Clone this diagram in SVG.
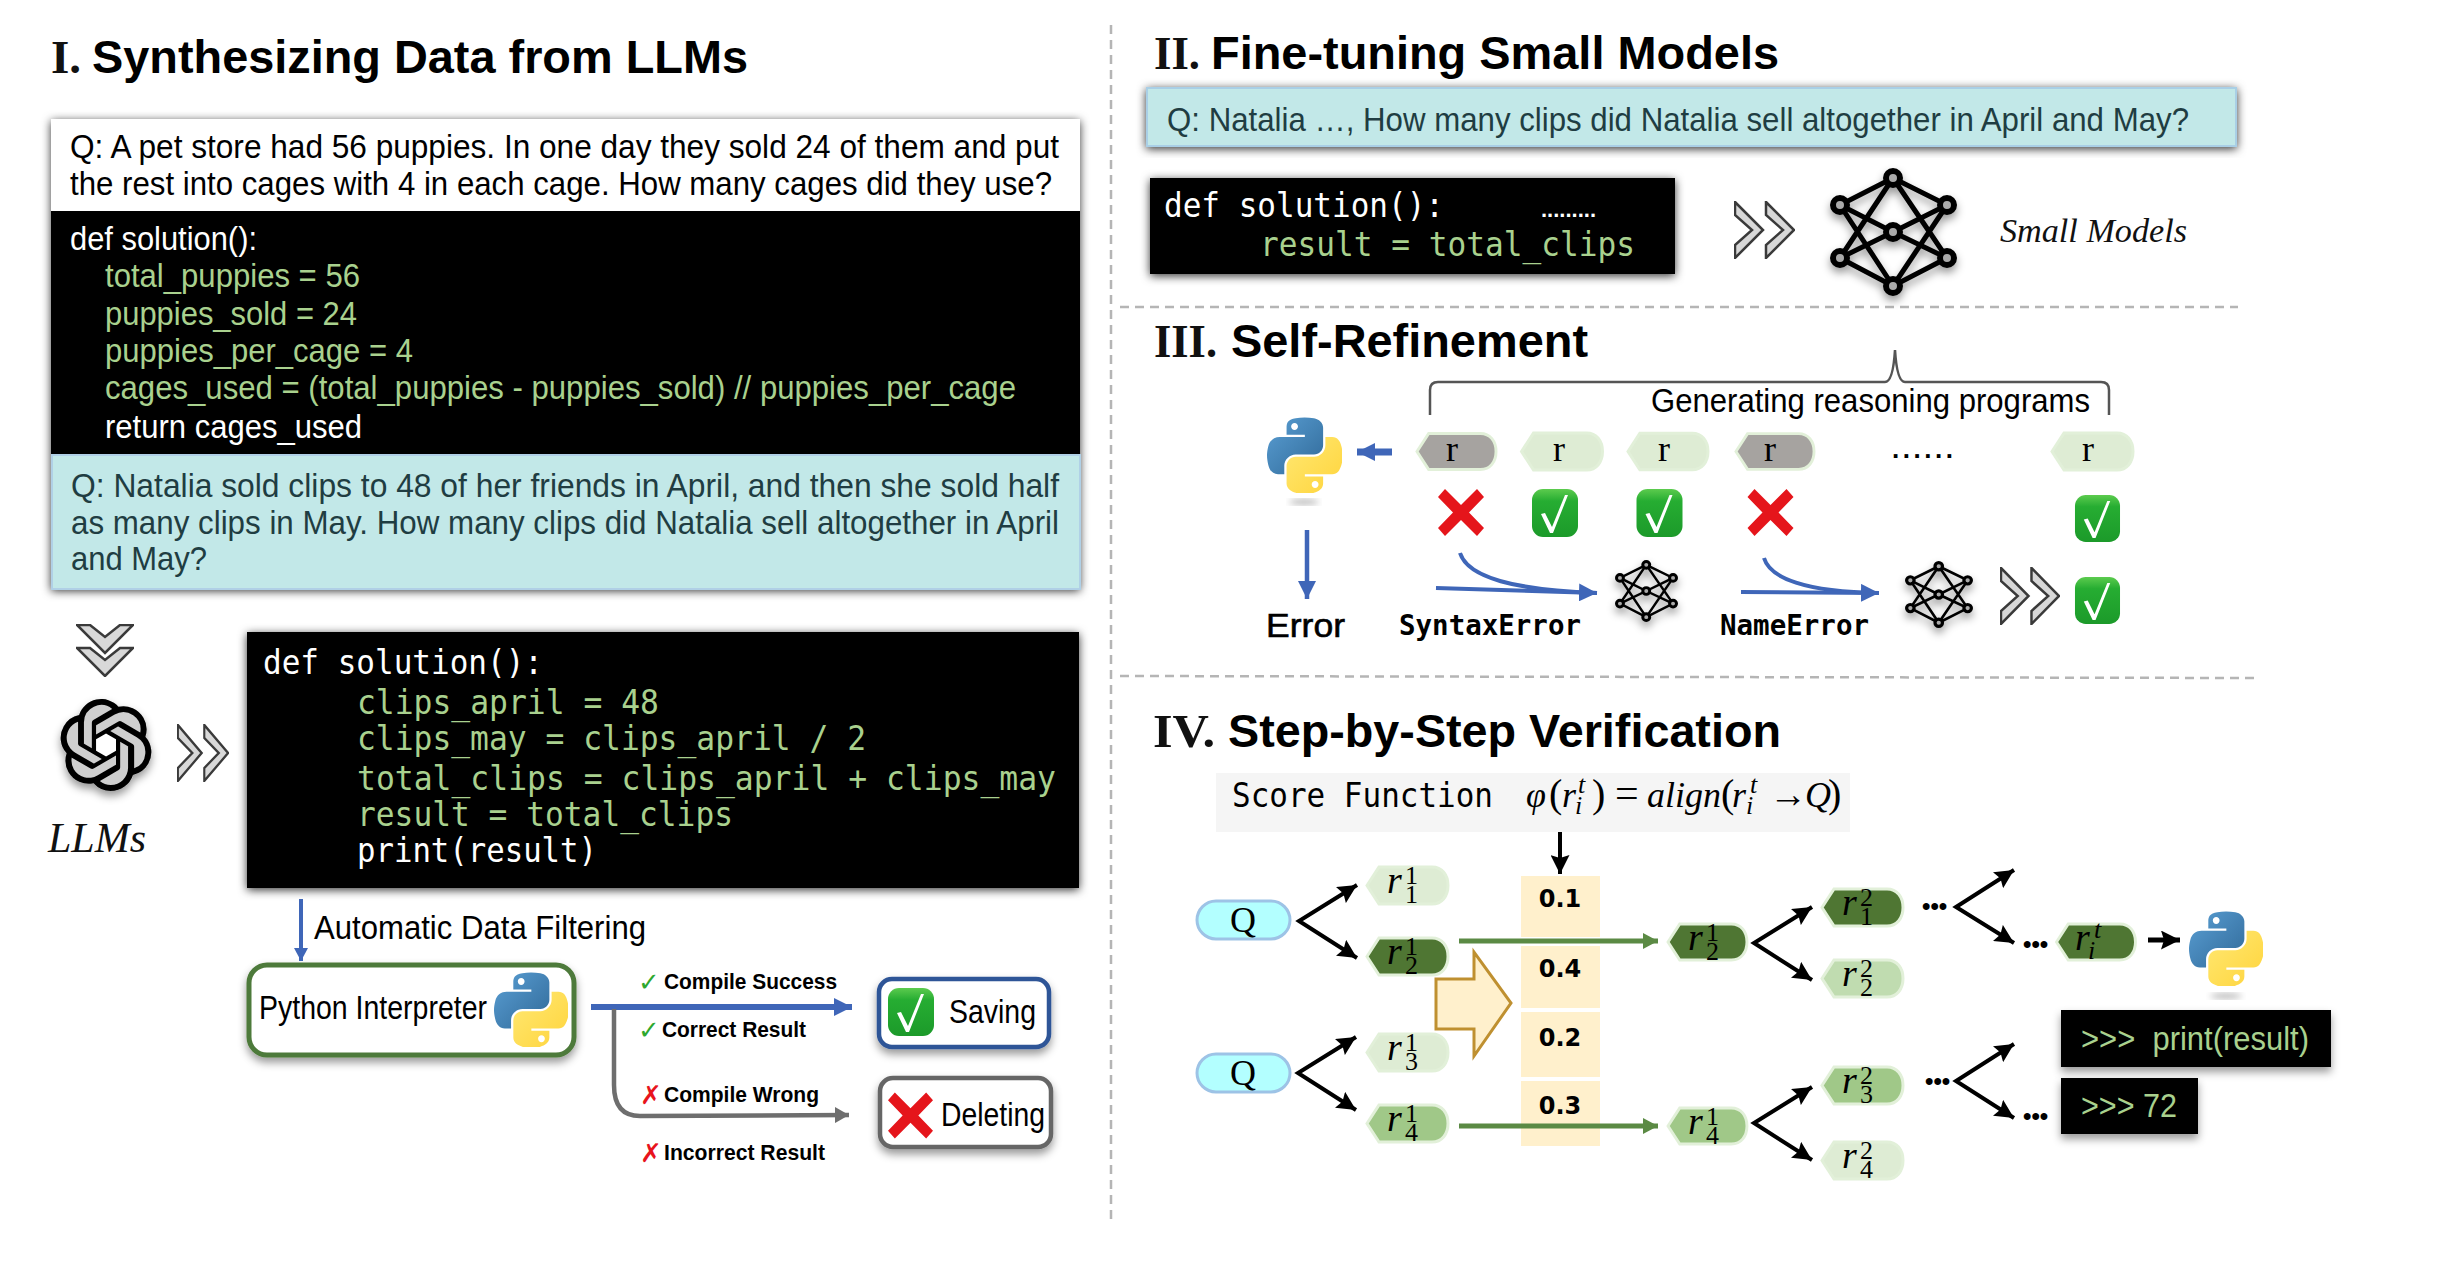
<svg xmlns="http://www.w3.org/2000/svg" width="2448" height="1262" viewBox="0 0 2448 1262">
<style>
text{font-family:"Liberation Sans",Arial,sans-serif;fill:#000}
.h{font-size:47px;font-weight:bold}
.ser{font-family:"Liberation Serif","Times New Roman",serif;fill:#111}
.b{font-size:34px}
.c{font-size:33px;fill:#fff}
.g{fill:#a9d18e}
.t{fill:#1f3d42}
.m{font-family:"DejaVu Sans Mono",monospace;font-size:33px}
.mw{fill:#fff}
.mb{font-family:"DejaVu Sans Mono",monospace;font-size:29px;font-weight:bold}
.lab{font-size:22px;font-weight:bold}
.ok{font-family:"DejaVu Sans",sans-serif;font-size:26px;fill:#2ea82e}
.no{font-family:"DejaVu Sans",sans-serif;font-size:26px;fill:#e8141c}
.rr{font-family:"Liberation Serif",serif;font-size:38px;font-style:italic}
.rs{font-size:26px;font-style:normal}
.ri{font-size:26px}
.r0{font-family:"Liberation Serif",serif;font-size:36px;text-anchor:middle}
.v{font-family:"DejaVu Sans",sans-serif;font-size:24px;font-weight:bold;text-anchor:middle}
.d{font-size:24px;font-weight:bold}
.dash{stroke:#b5b5b5;stroke-width:2.5;stroke-dasharray:9 6;fill:none}
.bl{stroke:#3f66b8;fill:none}
.gy{stroke:#6e6e6e;fill:none}
.gn{stroke:#5b8a44;stroke-width:5;fill:none}
.bk{stroke:#000;fill:none}
.l1{fill:#deecd4}.l2{fill:#c0dcb0}.mid{fill:#a0c888}.dk{fill:#4f7633}.gr{fill:#a6a3a0}
.cell{fill:#fff0cc}
</style>
<defs>
<filter id="sh" x="-10%" y="-20%" width="120%" height="140%"><feDropShadow dx="0" dy="2" stdDeviation="5" flood-color="#000" flood-opacity=".8"/></filter>
<filter id="sh2" x="-30%" y="-30%" width="160%" height="160%"><feDropShadow dx="0" dy="5" stdDeviation="4" flood-color="#000" flood-opacity=".4"/></filter>
<filter id="soft"><feGaussianBlur stdDeviation="3"/></filter>
<linearGradient id="pb" x1="0" y1="0" x2="1" y2="1"><stop offset="0" stop-color="#5a9fd4"/><stop offset="1" stop-color="#306998"/></linearGradient>
<linearGradient id="py" x1="0" y1="0" x2="1" y2="1"><stop offset="0" stop-color="#ffe873"/><stop offset="1" stop-color="#ffd43b"/></linearGradient>
<linearGradient id="ck" x1="0" y1="0" x2="0" y2="1"><stop offset="0" stop-color="#5ccb4e"/><stop offset=".25" stop-color="#26ad32"/><stop offset="1" stop-color="#1c9a2a"/></linearGradient>
<symbol id="python" viewBox="0 0 110 110"><path fill="url(#pb)" d="M54.919 0c-4.584.022-8.961.413-12.813 1.095C30.76 3.099 28.7 7.295 28.7 15.032v10.219h26.813v3.406H28.7H18.638c-7.793 0-14.616 4.684-16.75 13.594-2.462 10.213-2.571 16.586 0 27.25 1.906 7.938 6.457 13.594 14.25 13.594h9.218v-12.25c0-8.85 7.657-16.656 16.75-16.656h26.782c7.454 0 13.406-6.138 13.406-13.625V15.032c0-7.266-6.13-12.725-13.406-13.937C64.282.328 59.502-.02 54.919 0zM40.419 8.22c2.77 0 5.031 2.299 5.031 5.125 0 2.816-2.262 5.094-5.031 5.094-2.779 0-5.031-2.277-5.031-5.094 0-2.826 2.252-5.125 5.031-5.125z"/><path fill="url(#py)" d="M85.638 28.657v11.906c0 9.231-7.826 17-16.75 17H42.106c-7.336 0-13.406 6.279-13.406 13.625v25.531c0 7.266 6.319 11.54 13.406 13.625 8.487 2.496 16.626 2.947 26.782 0 6.75-1.954 13.406-5.888 13.406-13.625V86.5H55.513v-3.405h26.781 13.406c7.793 0 10.696-5.436 13.406-13.594 2.8-8.399 2.68-16.476 0-27.25-1.926-7.757-5.604-13.594-13.406-13.594H85.638zM70.575 93.313c2.779 0 5.031 2.277 5.031 5.094 0 2.826-2.252 5.125-5.031 5.125-2.77 0-5.031-2.299-5.031-5.125 0-2.816 2.262-5.094 5.031-5.094z"/></symbol>
<symbol id="check" viewBox="0 0 46 48"><rect width="46" height="48" rx="11" fill="url(#ck)"/><path fill="#fff" d="M9 25l4-1 7 14L33 6h3L21 44h-3z"/></symbol>
<symbol id="cross" viewBox="0 0 46 47"><path fill="#e5151b" d="M0 8 7 0 23 16 39 0 46 8 31 23.500 46 39 39 47 23 31 7 47 0 39 15 23.500z"/></symbol>
<symbol id="chevR" viewBox="0 0 61 58" preserveAspectRatio="none"><g fill="#d8d8d8" stroke="#3a3a3a" stroke-width="2.500"><path d="M1 1 29 29 1 57V44L18 29 1 14z"/><path d="M32 1 60 29 32 57V44L49 29 32 14z"/></g></symbol>
<symbol id="chevD" viewBox="0 0 58 53" preserveAspectRatio="none"><g fill="#d8d8d8" stroke="#3a3a3a" stroke-width="2.500"><path d="M1 1H14L29 13 44 1H57L29 29z"/><path d="M1 24H14L29 36 44 24H57L29 52z"/></g></symbol>
<symbol id="net" viewBox="0 0 127 128" preserveAspectRatio="none"><path stroke="#000" stroke-width="5" fill="none" d="M63 10 10 37 63 64 117 90 63 118 10 90 63 64 117 37ZM63 10 10 90M63 10 117 90M63 118 10 37M63 118 117 37"/><g fill="#aaa" stroke="#000" stroke-width="6"><circle cx="63" cy="10" r="7"/><circle cx="10" cy="37" r="7"/><circle cx="117" cy="37" r="7"/><circle cx="63" cy="64" r="7"/><circle cx="10" cy="90" r="7"/><circle cx="117" cy="90" r="7"/><circle cx="63" cy="118" r="7"/></g></symbol>
<symbol id="hex" viewBox="0 0 83 39" overflow="visible"><path stroke="#e2f0d9" stroke-width="3" d="M1 19.500 13 1H66C76 1 82 9 82 19.500S76 38 66 38H13z"/></symbol>
<symbol id="knot" viewBox="0 0 24 24"><path fill="#cfcfcf" d="M22.2819 9.8211a5.9847 5.9847 0 0 0-.5157-4.9108 6.0462 6.0462 0 0 0-6.5098-2.9A6.0651 6.0651 0 0 0 4.9807 4.1818a5.9847 5.9847 0 0 0-3.9977 2.9 6.0462 6.0462 0 0 0 .7427 7.0966 5.98 5.98 0 0 0 .511 4.9107 6.051 6.051 0 0 0 6.5146 2.9001A5.9847 5.9847 0 0 0 13.2599 24a6.0557 6.0557 0 0 0 5.7718-4.2058 5.9894 5.9894 0 0 0 3.9977-2.9001 6.0557 6.0557 0 0 0-.7475-7.0729z"/><circle cx="12" cy="12" r="3" fill="#fff"/><path d="M22.2819 9.8211a5.9847 5.9847 0 0 0-.5157-4.9108 6.0462 6.0462 0 0 0-6.5098-2.9A6.0651 6.0651 0 0 0 4.9807 4.1818a5.9847 5.9847 0 0 0-3.9977 2.9 6.0462 6.0462 0 0 0 .7427 7.0966 5.98 5.98 0 0 0 .511 4.9107 6.051 6.051 0 0 0 6.5146 2.9001A5.9847 5.9847 0 0 0 13.2599 24a6.0557 6.0557 0 0 0 5.7718-4.2058 5.9894 5.9894 0 0 0 3.9977-2.9001 6.0557 6.0557 0 0 0-.7475-7.0729zm-9.022 12.6081a4.4755 4.4755 0 0 1-2.8764-1.0408l.1419-.0804 4.7783-2.7582a.7948.7948 0 0 0 .3927-.6813v-6.7369l2.02 1.1686a.071.071 0 0 1 .038.052v5.5826a4.504 4.504 0 0 1-4.4945 4.4944zm-9.6607-4.1254a4.4708 4.4708 0 0 1-.5346-3.0137l.142.0852 4.783 2.7582a.7712.7712 0 0 0 .7806 0l5.8428-3.3685v2.3324a.0804.0804 0 0 1-.0332.0615L9.74 19.9502a4.4992 4.4992 0 0 1-6.1408-1.6464zM2.3408 7.8956a4.485 4.485 0 0 1 2.3655-1.9728V11.6a.7664.7664 0 0 0 .3879.6765l5.8144 3.3543-2.0201 1.1685a.0757.0757 0 0 1-.071 0l-4.8303-2.7865A4.504 4.504 0 0 1 2.3408 7.872zm16.5963 3.8558L13.1038 8.364 15.1192 7.2a.0757.0757 0 0 1 .071 0l4.8303 2.7913a4.4944 4.4944 0 0 1-.6765 8.1042v-5.6772a.79.79 0 0 0-.407-.667zm2.0107-3.0231l-.142-.0852-4.7735-2.7818a.7759.7759 0 0 0-.7854 0L9.409 9.2297V6.8974a.0662.0662 0 0 1 .0284-.0615l4.8303-2.7866a4.4992 4.4992 0 0 1 6.6802 4.66zM8.3065 12.863l-2.02-1.1638a.0804.0804 0 0 1-.038-.0567V6.0742a4.4992 4.4992 0 0 1 7.3757-3.4537l-.142.0805L8.704 5.459a.7948.7948 0 0 0-.3927.6813zm1.0976-2.3654l2.602-1.4998 2.6069 1.4998v2.9994l-2.5974 1.4997-2.6067-1.4997Z"/></symbol>
<marker id="ab" markerUnits="userSpaceOnUse" markerWidth="18" markerHeight="18" viewBox="0 0 18 18" refX="18" refY="9" orient="auto"><path d="M0 0 18 9 0 18z" fill="#3f66b8"/></marker>
<marker id="ab2" markerUnits="userSpaceOnUse" markerWidth="13" markerHeight="14" viewBox="0 0 13 14" refX="13" refY="7" orient="auto"><path d="M0 0 13 7 0 14z" fill="#3f66b8"/></marker>
<marker id="ag" markerUnits="userSpaceOnUse" markerWidth="14" markerHeight="16" viewBox="0 0 14 16" refX="14" refY="8" orient="auto"><path d="M0 0 14 8 0 16z" fill="#6e6e6e"/></marker>
<marker id="an" markerUnits="userSpaceOnUse" markerWidth="15" markerHeight="16" viewBox="0 0 15 16" refX="15" refY="8" orient="auto"><path d="M0 0 15 8 0 16z" fill="#5b8a44"/></marker>
<marker id="ak" markerUnits="userSpaceOnUse" markerWidth="19" markerHeight="19" viewBox="0 0 19 19" refX="19" refY="9.500" orient="auto-start-reverse"><path d="M0 0 19 9.500 0 19 3 9.500z" fill="#000"/></marker>
</defs>
<rect width="2448" height="1262" fill="#fff"/>

<g id="dividers">
<path class="dash" d="M1111 25V1225"/>
<path class="dash" d="M1120 307H2238"/>
<path class="dash" d="M1120 676 2256 678"/>
</g>

<g id="titles">
<text class="h ser" x="51" y="73">I.</text><text class="h" x="92" y="73" textLength="656" lengthAdjust="spacingAndGlyphs">Synthesizing Data from LLMs</text>
<text class="h ser" x="1154" y="69" textLength="46" lengthAdjust="spacingAndGlyphs">II.</text><text class="h" x="1211" y="69" textLength="568" lengthAdjust="spacingAndGlyphs">Fine-tuning Small Models</text>
<text class="h ser" x="1154" y="357" textLength="63" lengthAdjust="spacingAndGlyphs">III.</text><text class="h" x="1231" y="357" textLength="357" lengthAdjust="spacingAndGlyphs">Self-Refinement</text>
<text class="h ser" x="1153" y="747" textLength="62" lengthAdjust="spacingAndGlyphs">IV.</text><text class="h" x="1228" y="747" textLength="553" lengthAdjust="spacingAndGlyphs">Step-by-Step Verification</text>
</g>

<g id="example-panel">
<rect x="51" y="119" width="1029" height="470" fill="#000" filter="url(#sh)"/>
<rect x="51" y="119" width="1029" height="92" fill="#fff"/>
<rect x="52" y="455" width="1028" height="134" fill="#c2e8e8" stroke="#b0d0e6" stroke-width="2"/>
<text class="b" x="70" y="158" textLength="989" lengthAdjust="spacingAndGlyphs">Q: A pet store had 56 puppies. In one day they sold 24 of them and put</text>
<text class="b" x="70" y="195" textLength="982" lengthAdjust="spacingAndGlyphs">the rest into cages with 4 in each cage. How many cages did they use?</text>
<text class="c" x="70" y="250" textLength="187" lengthAdjust="spacingAndGlyphs">def solution():</text>
<text class="c g" x="105" y="287" textLength="255" lengthAdjust="spacingAndGlyphs">total_puppies = 56</text>
<text class="c g" x="105" y="325" textLength="252" lengthAdjust="spacingAndGlyphs">puppies_sold = 24</text>
<text class="c g" x="105" y="362" textLength="308" lengthAdjust="spacingAndGlyphs">puppies_per_cage = 4</text>
<text class="c g" x="105" y="399" textLength="911" lengthAdjust="spacingAndGlyphs">cages_used = (total_puppies - puppies_sold) // puppies_per_cage</text>
<text class="c" x="105" y="438" textLength="257" lengthAdjust="spacingAndGlyphs">return cages_used</text>
<text class="b t" x="71" y="497" textLength="988" lengthAdjust="spacingAndGlyphs">Q: Natalia sold clips to 48 of her friends in April, and then she sold half</text>
<text class="b t" x="71" y="534" textLength="988" lengthAdjust="spacingAndGlyphs">as many clips in May. How many clips did Natalia sell altogether in April</text>
<text class="b t" x="71" y="570" textLength="136" lengthAdjust="spacingAndGlyphs">and May?</text>
</g>

<g id="llm">
<use href="#chevD" x="76" y="624" width="58" height="53"/>
<g filter="url(#sh2)"><use href="#knot" x="60" y="698" width="92" height="94"/></g>
<use href="#chevR" x="177" y="724" width="52" height="58"/>
<text class="ser" x="48" y="852" font-size="42" font-style="italic" textLength="98" lengthAdjust="spacingAndGlyphs">LLMs</text>
</g>

<g id="generated-code">
<rect x="247" y="632" width="832" height="256" fill="#000" filter="url(#sh)"/>
<text class="m mw" x="263" y="674" textLength="280" lengthAdjust="spacingAndGlyphs">def solution():</text>
<text class="m g" x="357" y="714" textLength="302" lengthAdjust="spacingAndGlyphs">clips_april = 48</text>
<text class="m g" x="357" y="750" textLength="509" lengthAdjust="spacingAndGlyphs">clips_may = clips_april / 2</text>
<text class="m g" x="357" y="790" textLength="699" lengthAdjust="spacingAndGlyphs">total_clips = clips_april + clips_may</text>
<text class="m g" x="357" y="826" textLength="376" lengthAdjust="spacingAndGlyphs">result = total_clips</text>
<text class="m mw" x="357" y="862" textLength="240" lengthAdjust="spacingAndGlyphs">print(result)</text>
</g>

<text id="filter-label" class="b" x="314" y="939" textLength="332" lengthAdjust="spacingAndGlyphs">Automatic Data Filtering</text>

<g id="interpreter">
<rect x="249" y="965" width="325" height="90" rx="18" fill="#fff" stroke="#4e7a3a" stroke-width="5" filter="url(#sh2)"/>
<text class="b" x="259" y="1019" textLength="228" lengthAdjust="spacingAndGlyphs">Python Interpreter</text>
<use href="#python" x="494" y="972" width="74" height="75"/>
</g>

<g id="saving">
<rect x="879" y="979" width="170" height="68" rx="13" fill="#fff" stroke="#2f5597" stroke-width="4.500" filter="url(#sh2)"/>
<use href="#check" x="888" y="988" width="46" height="48"/>
<text class="b" x="949" y="1023" textLength="87" lengthAdjust="spacingAndGlyphs">Saving</text>
</g>
<g id="deleting">
<rect x="880" y="1078" width="171" height="69" rx="13" fill="#fff" stroke="#666" stroke-width="4.500" filter="url(#sh2)"/>
<use href="#cross" x="888" y="1092" width="45" height="47"/>
<text class="b" x="941" y="1126" textLength="104" lengthAdjust="spacingAndGlyphs">Deleting</text>
</g>
<g id="filter-labels">
<text class="ok" x="638" y="991">✓</text><text class="lab" x="664" y="989" textLength="173" lengthAdjust="spacingAndGlyphs">Compile Success</text>
<text class="ok" x="638" y="1039">✓</text><text class="lab" x="662" y="1037" textLength="144" lengthAdjust="spacingAndGlyphs">Correct Result</text>
<text class="no" x="640" y="1104">✗</text><text class="lab" x="664" y="1102" textLength="155" lengthAdjust="spacingAndGlyphs">Compile Wrong</text>
<text class="no" x="640" y="1162">✗</text><text class="lab" x="664" y="1160" textLength="161" lengthAdjust="spacingAndGlyphs">Incorrect Result</text>
</g>

<g id="finetune">
<rect x="1147" y="88" width="1089" height="58" fill="#c2e8e8" stroke="#a9cfe6" stroke-width="2" filter="url(#sh)"/>
<text class="b t" x="1167" y="131" textLength="1022" lengthAdjust="spacingAndGlyphs">Q: Natalia …, How many clips did Natalia sell altogether in April and May?</text>
<rect x="1150" y="178" width="525" height="96" fill="#000" filter="url(#sh)"/>
<text class="m mw" x="1164" y="217" textLength="280" lengthAdjust="spacingAndGlyphs">def solution():</text>
<text x="1541" y="217" font-size="22" font-weight="bold" style="fill:#fff" textLength="55" lengthAdjust="spacingAndGlyphs">.........</text>
<text class="m g" x="1260" y="256" textLength="375" lengthAdjust="spacingAndGlyphs">result = total_clips</text>
<use href="#chevR" x="1734" y="201" width="61" height="58"/>
<g filter="url(#sh2)"><use href="#net" x="1830" y="168" width="127" height="128"/></g>
<text class="ser" x="2000" y="242" font-size="34" font-style="italic" textLength="187" lengthAdjust="spacingAndGlyphs">Small Models</text>
</g>

<g id="refine">
<path d="M1430 415V390Q1430 382 1438 382H1885Q1893 382 1895 350 1897 382 1905 382H2101Q2109 382 2109 390V415" fill="none" stroke="#555" stroke-width="2.500"/>
<text class="b" x="1651" y="412" textLength="439" lengthAdjust="spacingAndGlyphs">Generating reasoning programs</text>
<use href="#python" x="1267" y="417" width="75" height="76"/>
<ellipse cx="1304" cy="502" rx="15" ry="3" fill="#bbb" filter="url(#soft)"/>
<use href="#hex" class="gr" x="1416" y="432" width="81" height="39"/><text class="r0" x="1452" y="461">r</text>
<use href="#hex" class="l1" x="1520" y="432" width="84" height="39"/><text class="r0" x="1559" y="461">r</text>
<use href="#hex" class="l1" x="1627" y="432" width="82" height="39"/><text class="r0" x="1664" y="461">r</text>
<use href="#hex" class="gr" x="1735" y="432" width="80" height="39"/><text class="r0" x="1770" y="461">r</text>
<use href="#hex" class="l1" x="2051" y="432" width="83" height="39"/><text class="r0" x="2088" y="461">r</text>
<text x="1892" y="458" font-size="26" font-weight="bold" textLength="61" lengthAdjust="spacing">......</text>
<use href="#cross" x="1438" y="489" width="46" height="47"/>
<use href="#check" x="1532" y="489" width="46" height="48"/>
<use href="#check" x="1636" y="489" width="47" height="48"/>
<use href="#cross" x="1747" y="489" width="47" height="47"/>
<use href="#check" x="2074" y="495" width="47" height="47"/>
<use href="#check" x="2074" y="577" width="47" height="47"/>
<text x="1266" y="637" font-size="33" stroke="#000" stroke-width=".6" textLength="79" lengthAdjust="spacingAndGlyphs">Error</text>
<text class="mb" x="1399" y="635" textLength="182" lengthAdjust="spacingAndGlyphs">SyntaxError</text>
<text class="mb" x="1720" y="635" textLength="149" lengthAdjust="spacingAndGlyphs">NameError</text>
<g filter="url(#sh2)"><use href="#net" x="1615" y="560" width="63" height="62"/></g>
<g filter="url(#sh2)"><use href="#net" x="1905" y="561" width="68" height="67"/></g>
<use href="#chevR" x="2000" y="567" width="60" height="58"/>
</g>

<g id="verify">
<rect x="1216" y="773" width="634" height="59" fill="#f5f5f5"/>
<text class="m" x="1232" y="807" textLength="261" lengthAdjust="spacingAndGlyphs">Score Function</text>
<text id="formula" class="rr" x="1526" y="807" style="font-size:36px">φ<tspan class="rs" x="1549" style="font-size:40px">(</tspan><tspan x="1562">r</tspan><tspan class="ri" x="1578" y="793">t</tspan><tspan class="ri" x="1575" y="814">i</tspan><tspan class="rs" x="1592" y="807" style="font-size:40px">)</tspan><tspan class="rs" x="1615" style="font-size:42px">=</tspan><tspan x="1647">align</tspan><tspan class="rs" x="1721" style="font-size:40px">(</tspan><tspan x="1732">r</tspan><tspan class="ri" x="1750" y="793">t</tspan><tspan class="ri" x="1746" y="814">i</tspan><tspan class="rs" x="1769" y="807" style="font-size:38px">→</tspan><tspan x="1805">Q</tspan><tspan class="rs" x="1828" style="font-size:40px">)</tspan></text>
<g id="scores">
<rect class="cell" x="1521" y="876" width="79" height="61"/><rect class="cell" x="1521" y="946" width="79" height="62"/><rect class="cell" x="1521" y="1012" width="79" height="65"/><rect class="cell" x="1521" y="1081" width="79" height="65"/>
<text class="v" x="1560" y="907">0.1</text><text class="v" x="1560" y="977">0.4</text><text class="v" x="1560" y="1046">0.2</text><text class="v" x="1560" y="1114">0.3</text>
</g>
<path id="score-arrow" d="M1436 979H1474V952L1511 1003 1474 1056V1029H1436Z" fill="#fff0cc" stroke="#bf9030" stroke-width="3"/>
<g id="q1"><rect x="1197" y="901" width="93" height="38" rx="19" fill="#b3ffff" stroke="#9dc3e6" stroke-width="3"/><text class="r0" x="1243" y="932">Q</text></g>
<g id="q2"><rect x="1197" y="1054" width="93" height="38" rx="19" fill="#b3ffff" stroke="#9dc3e6" stroke-width="3"/><text class="r0" x="1243" y="1085">Q</text></g>

<g id="r11" transform="translate(1366 866)"><use href="#hex" class="l1" width="83" height="39"/><text class="rr" x="21" y="27">r<tspan class="rs" x="39" y="18">1</tspan><tspan class="rs" x="39" y="37">1</tspan></text></g>
<g id="r21" transform="translate(1366 937)"><use href="#hex" class="dk" width="83" height="39"/><text class="rr" x="21" y="27">r<tspan class="rs" x="39" y="18">1</tspan><tspan class="rs" x="39" y="37">2</tspan></text></g>
<g id="r31" transform="translate(1366 1033)"><use href="#hex" class="l1" width="83" height="39"/><text class="rr" x="21" y="27">r<tspan class="rs" x="39" y="18">1</tspan><tspan class="rs" x="39" y="37">3</tspan></text></g>
<g id="r41" transform="translate(1366 1104)"><use href="#hex" class="mid" width="83" height="39"/><text class="rr" x="21" y="27">r<tspan class="rs" x="39" y="18">1</tspan><tspan class="rs" x="39" y="37">4</tspan></text></g>
<g id="r21b" transform="translate(1667 923)"><use href="#hex" class="dk" width="81" height="38"/><text class="rr" x="21" y="27">r<tspan class="rs" x="39" y="18">1</tspan><tspan class="rs" x="39" y="37">2</tspan></text></g>
<g id="r41b" transform="translate(1667 1107)"><use href="#hex" class="mid" width="81" height="38"/><text class="rr" x="21" y="27">r<tspan class="rs" x="39" y="18">1</tspan><tspan class="rs" x="39" y="37">4</tspan></text></g>
<g id="r12" transform="translate(1821 888)"><use href="#hex" class="dk" width="83" height="39"/><text class="rr" x="21" y="27">r<tspan class="rs" x="39" y="18">2</tspan><tspan class="rs" x="39" y="37">1</tspan></text></g>
<g id="r22" transform="translate(1821 959)"><use href="#hex" class="l2" width="83" height="39"/><text class="rr" x="21" y="27">r<tspan class="rs" x="39" y="18">2</tspan><tspan class="rs" x="39" y="37">2</tspan></text></g>
<g id="r32" transform="translate(1821 1066)"><use href="#hex" class="mid" width="83" height="39"/><text class="rr" x="21" y="27">r<tspan class="rs" x="39" y="18">2</tspan><tspan class="rs" x="39" y="37">3</tspan></text></g>
<g id="r42" transform="translate(1821 1141)"><use href="#hex" class="l1" width="83" height="39"/><text class="rr" x="21" y="27">r<tspan class="rs" x="39" y="18">2</tspan><tspan class="rs" x="39" y="37">4</tspan></text></g>
<g id="rit" transform="translate(2055 923)"><use href="#hex" class="dk" width="82" height="38"/><text class="rr" x="20" y="27">r<tspan class="ri" x="39" y="15">t</tspan><tspan class="ri" x="33" y="36">i</tspan></text></g>

<g id="ellipses">
<text class="d" x="1922" y="914">•••</text><text class="d" x="2023" y="952">•••</text><text class="d" x="1925" y="1089">•••</text><text class="d" x="2023" y="1124">•••</text>
</g>
<use href="#python" x="2189" y="911" width="74" height="75"/>
<ellipse cx="2226" cy="996" rx="16" ry="3" fill="#bbb" filter="url(#soft)"/>
<g id="out1"><rect x="2061" y="1010" width="270" height="57" fill="#000" filter="url(#sh2)"/><text class="b g" x="2081" y="1050" textLength="228" lengthAdjust="spacingAndGlyphs" xml:space="preserve">&gt;&gt;&gt;  print(result)</text></g>
<g id="out2"><rect x="2061" y="1078" width="137" height="56" fill="#000" filter="url(#sh2)"/><text class="b g" x="2081" y="1117" textLength="96" lengthAdjust="spacingAndGlyphs">&gt;&gt;&gt; 72</text></g>
</g>

<g id="connectors">
<path class="bl" stroke-width="4" d="M301 899V961" marker-end="url(#ab2)"/>
<path class="bl" stroke-width="6" d="M591 1007H852" marker-end="url(#ab)"/>
<path class="gy" stroke-width="4.500" d="M614 1009V1085Q614 1116 640 1116L849 1115" marker-end="url(#ag)"/>
<path class="bl" stroke-width="7" d="M1392 452H1357" marker-end="url(#ab)"/>
<path class="bl" stroke-width="4.500" d="M1307 530V599" marker-end="url(#ab)"/>
<path class="bl" stroke-width="4" d="M1460 553C1468 578 1515 590 1597 593"/>
<path class="bl" stroke-width="4" d="M1436 588 1597 593" marker-end="url(#ab)"/>
<path class="bl" stroke-width="4" d="M1764 558C1770 578 1805 592 1879 593"/>
<path class="bl" stroke-width="4" d="M1741 592 1879 593" marker-end="url(#ab)"/>
<path class="bk" stroke-width="4" d="M1560 832V874" marker-end="url(#ak)"/>
<path class="bk" stroke-width="4" d="M1357 885 1299 921 1357 958" marker-start="url(#ak)" marker-end="url(#ak)"/>
<path class="bk" stroke-width="4" d="M1356 1037 1298 1073 1356 1110" marker-start="url(#ak)" marker-end="url(#ak)"/>
<path class="gn" d="M1459 941H1658" marker-end="url(#an)"/>
<path class="gn" d="M1459 1126H1658" marker-end="url(#an)"/>
<path class="bk" stroke-width="4" d="M1812 907 1754 943 1812 980" marker-start="url(#ak)" marker-end="url(#ak)"/>
<path class="bk" stroke-width="4" d="M1812 1087 1754 1123 1812 1160" marker-start="url(#ak)" marker-end="url(#ak)"/>
<path class="bk" stroke-width="4" d="M2014 870 1956 907 2014 943" marker-start="url(#ak)" marker-end="url(#ak)"/>
<path class="bk" stroke-width="4" d="M2014 1044 1956 1081 2014 1118" marker-start="url(#ak)" marker-end="url(#ak)"/>
<path class="bk" stroke-width="5" d="M2148 940H2180" marker-end="url(#ak)"/>
</g>
</svg>
